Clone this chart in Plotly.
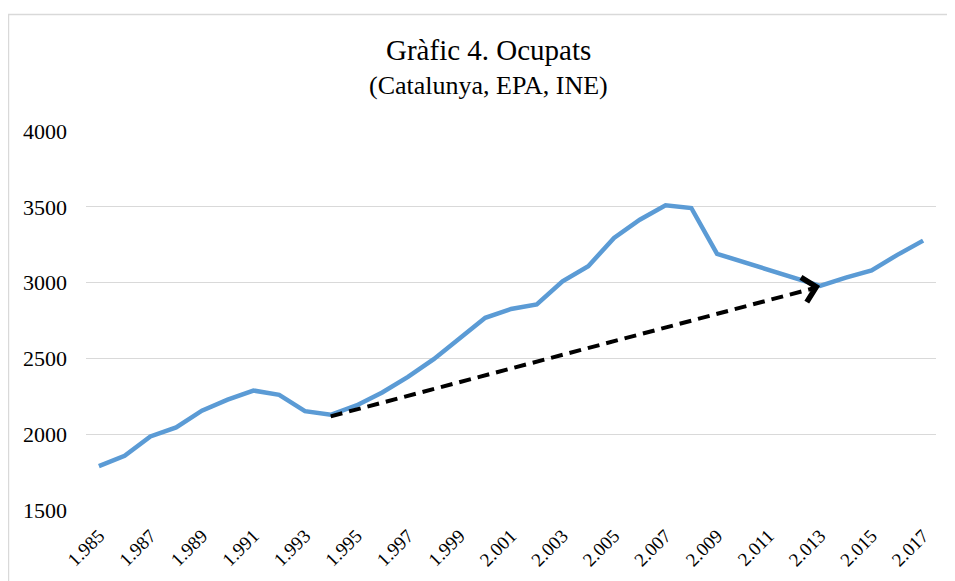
import plotly.graph_objects as go

years = list(range(1985, 2018))
ocupats = [1790, 1858, 1985, 2045, 2155, 2228, 2288, 2260, 2152, 2128,
           2190, 2275, 2378, 2495, 2632, 2768, 2826, 2856, 3008, 3108,
           3295, 3415, 3510, 3492, 3190, 3137, 3080, 3033, 2978, 3033,
           3080, 3183, 3277]
tick_years = list(range(1985, 2018, 2))
tick_labels = [f"{y // 1000}.{y % 1000:03d}" for y in tick_years]
y_ticks = [1500, 2000, 2500, 3000, 3500, 4000]
trend_years = [1994, 2012.8]
trend_values = [2118, 2965]
arrow_tip = (2013, 2978)
arrow_tail = (2012.6, 2962)
title_text = "Gràfic 4. Ocupats"
subtitle_text = "(Catalunya, EPA, INE)"

font_family = "Liberation Serif"

fig = go.Figure()
fig.add_trace(go.Scatter(
    x=years, y=ocupats, mode="lines",
    line=dict(color="#5B9BD5", width=4.5),
    hoverinfo="x+y", showlegend=False,
))
fig.add_trace(go.Scatter(
    x=trend_years, y=trend_values, mode="lines",
    line=dict(color="black", width=4, dash="12px,7px"),
    showlegend=False, hoverinfo="skip",
))
fig.add_annotation(
    x=arrow_tip[0], y=arrow_tip[1], ax=arrow_tail[0], ay=arrow_tail[1],
    xref="x", yref="y", axref="x", ayref="y",
    text="", showarrow=True, arrowhead=4, arrowsize=1.4, arrowwidth=3.5,
    arrowcolor="black",
)
fig.add_annotation(
    x=0.473, y=1.2137, xref="paper", yref="paper", text=title_text,
    showarrow=False, xanchor="center", yanchor="middle",
    font=dict(family=font_family, size=29, color="black"),
)
fig.add_annotation(
    x=0.473, y=1.121, xref="paper", yref="paper", text=subtitle_text,
    showarrow=False, xanchor="center", yanchor="middle",
    font=dict(family=font_family, size=26, color="black"),
)

fig.add_shape(type="rect", xref="paper", yref="paper",
              x0=-0.0912, x1=1.1, y0=-0.4, y1=1.3074,
              line=dict(color="#d9d9d9", width=1.5), fillcolor="rgba(0,0,0,0)",
              layer="below")

fig.update_layout(
    width=955, height=581,
    margin=dict(l=78, r=27, t=123, b=79),
    paper_bgcolor="white", plot_bgcolor="white",
    font=dict(family=font_family, color="black", size=22),
    xaxis=dict(
        range=[1984.5, 2017.5], tickmode="array", tickvals=tick_years,
        ticktext=tick_labels, tickangle=-45, showgrid=False, zeroline=False,
        showline=False, ticks="", ticklabelstandoff=10,
        tickfont=dict(size=19, family=font_family),
    ),
    yaxis=dict(
        range=[1500, 4000], tickvals=y_ticks,
        showgrid=True, gridcolor="#d9d9d9", gridwidth=1.3, zeroline=False,
        showline=False, ticks="", ticklabelstandoff=18,
        tickfont=dict(size=22, family=font_family),
    ),
)

fig.write_html("out.html")
